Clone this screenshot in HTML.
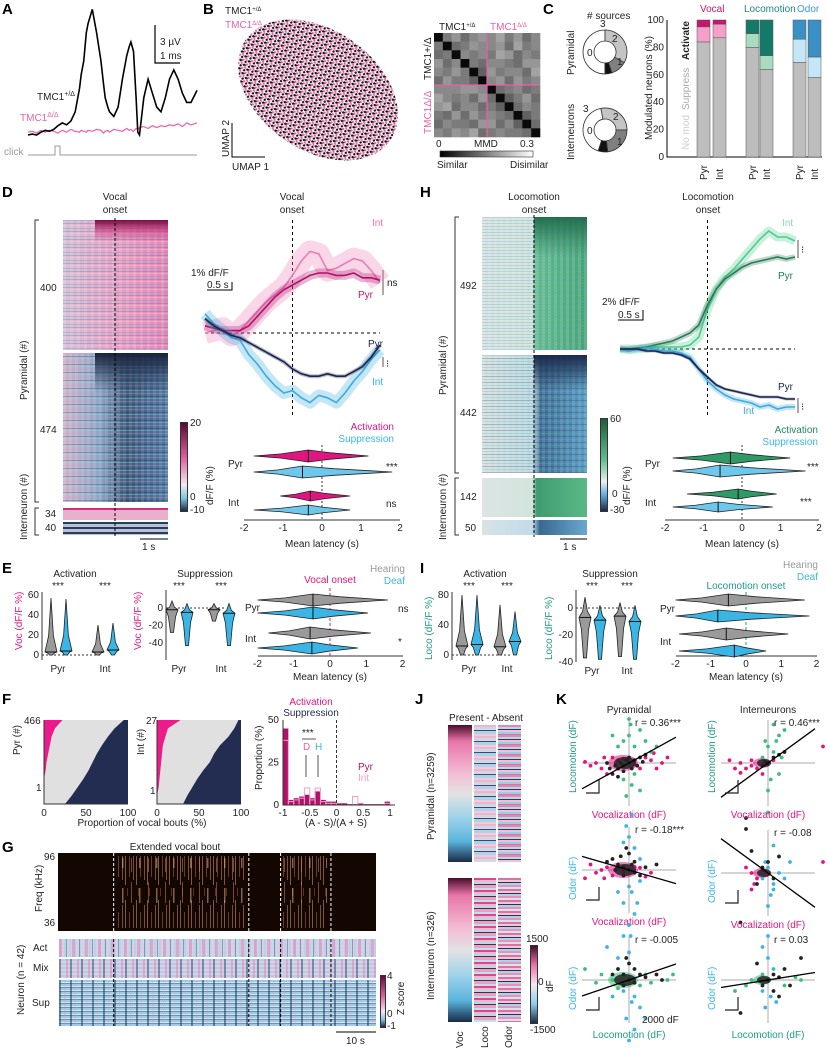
<!DOCTYPE html>
<html><head><meta charset="utf-8">
<style>
body{margin:0;background:#fff;}
#wrap{position:relative;width:827px;height:1050px;overflow:hidden;font-family:"Liberation Sans",sans-serif;}
.hm{position:absolute;}
svg text{font-family:"Liberation Sans",sans-serif;font-size:10px;fill:#222;}
.pl{font-size:15px;font-weight:bold;fill:#000;}
</style></head><body>
<div id="wrap">
<!-- D heatmap -->
<div class="hm" style="left:63px;top:220px;width:105px;height:130px;background:repeating-linear-gradient(180deg,rgba(90,170,215,.4) 0 1px,transparent 1px 3px,rgba(40,60,100,.2) 3px 4px,transparent 4px 5px,rgba(250,200,225,.4) 5px 6px,transparent 6px 8px),repeating-linear-gradient(90deg,rgba(255,255,255,.15) 0 3px,transparent 3px 7px),linear-gradient(90deg,#d4c0d6 0,#e6a2c4 45%,#e585b6 100%);"></div>
<div class="hm" style="left:95px;top:220px;width:73px;height:22px;background:linear-gradient(180deg,#7a0d48 0,rgba(200,40,110,.5) 50%,transparent 100%);"></div>
<div class="hm" style="left:63px;top:353px;width:105px;height:149px;background:repeating-linear-gradient(180deg,rgba(235,140,185,.35) 0 1px,transparent 1px 3px,rgba(20,30,60,.25) 3px 4px,transparent 4px 5px,rgba(160,210,235,.35) 5px 6px,transparent 6px 8px),repeating-linear-gradient(90deg,rgba(255,255,255,.12) 0 3px,transparent 3px 6px),linear-gradient(90deg,#cdb6cc 0,#86a8c6 35%,#3a5a7c 60%,#4a78a0 100%);"></div>
<div class="hm" style="left:95px;top:353px;width:73px;height:40px;background:linear-gradient(180deg,#18223c 0,rgba(30,45,75,.5) 50%,transparent 100%);"></div>
<div class="hm" style="left:63px;top:508px;width:105px;height:12px;background:linear-gradient(180deg,#d0307a 0 2px,#e8b0cc 2px);"></div>
<div class="hm" style="left:63px;top:522px;width:105px;height:13px;background:repeating-linear-gradient(180deg,#2a3c5c 0 2px,#a8c8dc 2px 4px,#e0b0c8 4px 5px);"></div>
<div class="hm" style="left:180px;top:422px;width:6px;height:88px;border:1px solid #333;background:linear-gradient(180deg,#5a0a30,#e060a0 40%,#f4e8f0 70%,#7fc8e8 85%,#1a2a48);"></div>
<!-- H heatmap -->
<div class="hm" style="left:482px;top:217px;width:105px;height:133px;background:repeating-linear-gradient(180deg,rgba(90,170,215,.3) 0 1px,transparent 1px 3px,rgba(80,180,130,.3) 3px 4px,transparent 4px 6px),repeating-linear-gradient(90deg,rgba(255,255,255,.15) 0 3px,transparent 3px 6px),linear-gradient(90deg,#dbe2e4 0,#d2e2de 48%,#62ba8e 52%,#46a276 100%);"></div>
<div class="hm" style="left:534px;top:217px;width:53px;height:40px;background:linear-gradient(180deg,#236e50 0,rgba(40,120,85,.4) 60%,transparent);"></div>
<div class="hm" style="left:482px;top:355px;width:105px;height:118px;background:repeating-linear-gradient(180deg,rgba(90,190,140,.3) 0 1px,transparent 1px 3px,rgba(30,50,90,.25) 3px 4px,transparent 4px 6px),repeating-linear-gradient(90deg,rgba(255,255,255,.12) 0 3px,transparent 3px 6px),linear-gradient(90deg,#d6e0e2 0,#bcd8e4 48%,#3e6e98 56%,#5a9ac4 100%);"></div>
<div class="hm" style="left:534px;top:355px;width:53px;height:35px;background:linear-gradient(180deg,#1a2a4c,transparent);"></div>
<div class="hm" style="left:482px;top:478px;width:105px;height:39px;background:linear-gradient(90deg,#dde4e4 0,#d2e4dc 48%,#3f9c70 52%,#5ab888 100%);"></div>
<div class="hm" style="left:482px;top:520px;width:105px;height:15px;background:linear-gradient(90deg,#d8e2e6 0,#c0dcea 48%,#3a6890 55%,#6aa8d0 100%);"></div>
<div class="hm" style="left:600px;top:418px;width:6px;height:92px;border:1px solid #333;background:linear-gradient(180deg,#1e5c3c,#60c090 45%,#eeeeee 68%,#60b0e0 82%,#1a2a48);"></div>
<!-- G neuron heatmap -->
<div class="hm" style="left:59px;top:939px;width:317px;height:18px;background:repeating-linear-gradient(90deg,rgba(235,120,175,.5) 0 3px,transparent 3px 7px,rgba(40,60,100,.4) 7px 8px,transparent 8px 13px),repeating-linear-gradient(90deg,rgba(160,210,235,.5) 0 2px,transparent 2px 5px),repeating-linear-gradient(180deg,#b6dcf0 0 2px,#f0c8dc 2px 4px);"></div>
<div class="hm" style="left:59px;top:959px;width:317px;height:19px;background:repeating-linear-gradient(90deg,rgba(30,50,90,.45) 0 2px,transparent 2px 7px,rgba(235,120,175,.45) 7px 9px,transparent 9px 11px),repeating-linear-gradient(180deg,#a6d4ec 0 2px,#ecc8dc 2px 4px);"></div>
<div class="hm" style="left:59px;top:980px;width:317px;height:46px;background:repeating-linear-gradient(90deg,rgba(30,45,80,.5) 0 2px,transparent 2px 5px,rgba(235,140,185,.35) 5px 6px,transparent 6px 11px),repeating-linear-gradient(180deg,#9ccce6 0 2px,#d8e6f0 2px 3px,#7090b0 3px 4px);"></div>
<div class="hm" style="left:380px;top:975px;width:4px;height:51px;border:1px solid #333;background:linear-gradient(180deg,#6a0a38,#e060a0 40%,#f4e8f0 70%,#7fc8e8 85%,#1a2a48);"></div>
<!-- J -->
<div class="hm" style="left:448px;top:725px;width:24px;height:137px;background:linear-gradient(180deg,#4a0c2a 0,#e876a8 12%,#f3bcd4 35%,#e2e2e2 50%,#9cd2ea 68%,#5ab4dc 85%,#1a2a48 100%);"></div>
<div class="hm" style="left:474px;top:725px;width:22px;height:137px;background:repeating-linear-gradient(180deg,#f2b4cc 0 2px,#c4dcea 2px 4px,#e9d0dc 4px 5px,#3a4a6a 5px 6px,#a8d4ec 6px 9px,#f6c8da 9px 11px);"></div>
<div class="hm" style="left:498px;top:725px;width:23px;height:137px;background:repeating-linear-gradient(180deg,#e488b0 0 2px,#b8d8ea 2px 4px,#2a3a5a 4px 5px,#f0c0d4 5px 7px,#9acde8 7px 9px,#e070a0 9px 10px);"></div>
<div class="hm" style="left:448px;top:878px;width:24px;height:144px;background:linear-gradient(180deg,#4a0c2a 0,#e876a8 12%,#f3bcd4 35%,#e2e2e2 50%,#9cd2ea 68%,#5ab4dc 85%,#1a2a48 100%);"></div>
<div class="hm" style="left:474px;top:878px;width:22px;height:144px;background:repeating-linear-gradient(180deg,#d8488a 0 2px,#f0b8d0 2px 4px,#b8d8ea 4px 6px,#4a2a4a 6px 7px,#eaa0c0 7px 10px,#c4e0ee 10px 12px);"></div>
<div class="hm" style="left:498px;top:878px;width:23px;height:144px;background:repeating-linear-gradient(180deg,#e070a0 0 2px,#f4c4d8 2px 4px,#2a3050 4px 5px,#a8d4ec 5px 7px,#ec90b8 7px 9px,#d4e4ee 9px 11px);"></div>
<div class="hm" style="left:530px;top:945px;width:6px;height:77px;border:1px solid #333;background:linear-gradient(180deg,#4a0c2a,#e876a8 25%,#f4e8f0 50%,#8ad0ee 75%,#1a2a48);"></div>

<svg id="s" width="827" height="1050" style="position:absolute;left:0;top:0">
<defs>
<pattern id="umap" width="6" height="6" patternUnits="userSpaceOnUse" patternTransform="rotate(20)">
<rect width="6" height="6" fill="#fff"/>
<circle cx="1" cy="1" r="1.2" fill="#111"/><circle cx="4" cy="1.5" r="1.2" fill="#ee5fa3"/>
<circle cx="2.5" cy="4" r="1.2" fill="#111"/><circle cx="5" cy="4.5" r="1.1" fill="#ee5fa3"/><circle cx="0.5" cy="5" r=".8" fill="#e060a0"/>
<circle cx="3.5" cy="3" r=".8" fill="#222"/>
</pattern>
<pattern id="spec" width="11" height="60" patternUnits="userSpaceOnUse">
<rect x="1" y="5" width="1" height="35" fill="#c08050" opacity=".6"/><rect x="4" y="0" width="1" height="45" fill="#e0b080" opacity=".5"/>
<rect x="8" y="12" width="1" height="25" fill="#a06040" opacity=".6"/><rect x="6" y="48" width="1" height="8" fill="#804020" opacity=".7"/>
</pattern>
<pattern id="spec2" width="17" height="40" patternUnits="userSpaceOnUse">
<rect x="3" y="8" width="1.5" height="20" fill="#f0c090" opacity=".5"/><rect x="12" y="2" width="1" height="30" fill="#d09060" opacity=".5"/>
</pattern>
</defs>
<text class="pl" x="2" y="14">A</text>
<text class="pl" x="203" y="14">B</text>
<text class="pl" x="543" y="14">C</text>
<text class="pl" x="2" y="197">D</text>
<text class="pl" x="420" y="197">H</text>
<text class="pl" x="2" y="573">E</text>
<text class="pl" x="420" y="573">I</text>
<text class="pl" x="2" y="704">F</text>
<text class="pl" x="2" y="852">G</text>
<text class="pl" x="415" y="704">J</text>
<text class="pl" x="556" y="704">K</text>

<!-- A labels -->
<path d="M155 25 V63 H180" stroke="#000" stroke-width="1.2" fill="none"/>
<text x="160" y="45">3 µV</text>
<text x="160" y="59">1 ms</text>
<text x="37" y="100">TMC1<tspan font-size="7" dy="-4">+/Δ</tspan></text>
<text x="20" y="121" fill="#ee5fa3" style="fill:#ee5fa3">TMC1<tspan font-size="7" dy="-4">Δ/Δ</tspan></text>
<text x="4" y="155" style="fill:#999">click</text>
<path d="M28 155 H55 V146 H60 V155 H197" stroke="#999" fill="none"/>

<!-- B -->
<text x="225" y="14" font-size="9">TMC1<tspan font-size="6" dy="-3">+/Δ</tspan></text>
<text x="225" y="28" font-size="9" style="fill:#ee5fa3">TMC1<tspan font-size="6" dy="-3">Δ/Δ</tspan></text>
<ellipse cx="318" cy="90" rx="88" ry="60" transform="rotate(35 318 90)" fill="url(#umap)"/>
<path d="M232 123 V157 H265" stroke="#000" fill="none"/>
<text x="0" y="0" transform="translate(229 157) rotate(-90)" font-size="9">UMAP 2</text>
<text x="232" y="170" font-size="9">UMAP 1</text>
<g id="mmd"></g>
<text x="439" y="30" font-size="9">TMC1<tspan font-size="6" dy="-3">+/Δ</tspan></text>
<text x="490" y="30" font-size="9" style="fill:#ee5fa3">TMC1<tspan font-size="6" dy="-3">Δ/Δ</tspan></text>
<text transform="translate(431 80) rotate(-90)" font-size="9">TMC1+/Δ</text>
<text transform="translate(431 134) rotate(-90)" font-size="9" style="fill:#ee5fa3">TMC1Δ/Δ</text>
<defs><linearGradient id="gmmd"><stop offset="0" stop-color="#000"/><stop offset="1" stop-color="#fff"/></linearGradient></defs>
<rect x="440" y="151" width="93" height="6" fill="url(#gmmd)" stroke="#333" stroke-width=".6"/>
<text x="436" y="147" font-size="9">0</text>
<text x="474" y="147" font-size="9">MMD</text>
<text x="520" y="147" font-size="9">0.3</text>
<text x="437" y="168" font-size="9">Similar</text>
<text x="510" y="168" font-size="9">Disimilar</text>

<!-- C -->
<text x="587" y="19" font-size="9"># sources</text>
<text transform="translate(574 75) rotate(-90)" font-size="10">Pyramidal</text>
<text transform="translate(574 160) rotate(-90)" font-size="10">Interneurons</text>
<g id="donuts"></g>
<g id="barsC"></g>
<text x="700" y="12" font-size="10" style="fill:#c4176e">Vocal</text>
<text x="744" y="12" font-size="10" style="fill:#1a8a7a">Locomotion</text>
<text x="797" y="12" font-size="10" style="fill:#3a9ad0">Odor</text>
<text transform="translate(652 140) rotate(-90)" font-size="9">Modulated neurons (%)</text>
<text transform="translate(689 60) rotate(-90)" font-size="9" font-weight="bold">Activate</text>
<text transform="translate(689 110) rotate(-90)" font-size="9" style="fill:#aaa">Suppress</text>
<text transform="translate(689 150) rotate(-90)" font-size="9" style="fill:#ccc">No mod</text>

<!-- D labels -->
<text x="115" y="200" text-anchor="middle">Vocal</text>
<text x="115" y="213" text-anchor="middle">onset</text>
<line x1="115" y1="218" x2="115" y2="537" stroke="#000" stroke-dasharray="3,2"/>
<path d="M39 220 H35 V502 H39 M39 508 H35 V535 H39" stroke="#333" fill="none"/>
<text transform="translate(27 400) rotate(-90)">Pyramidal (#)</text>
<text transform="translate(27 540) rotate(-90)">Interneuron (#)</text>
<text x="40" y="291">400</text>
<text x="40" y="433">474</text>
<text x="45" y="517" font-size="9">34</text>
<text x="45" y="531" font-size="9">40</text>
<line x1="140" y1="539" x2="168" y2="539" stroke="#000"/>
<text x="142" y="550">1 s</text>
<text x="190" y="426" font-size="9">20</text>
<text x="190" y="500" font-size="9">0</text>
<text x="190" y="513" font-size="9">-10</text>
<text transform="translate(213 505) rotate(-90)" font-size="9">dF/F (%)</text>
<text x="292" y="200" text-anchor="middle">Vocal</text>
<text x="292" y="213" text-anchor="middle">onset</text>
<text x="191" y="276" font-size="9">1% dF/F</text>
<path d="M207 290 H232 V282" stroke="#000" fill="none"/>
<text x="207" y="288" font-size="9">0.5 s</text>
<text x="372" y="226" font-size="9" style="fill:#ee70aa">Int</text>
<text x="358" y="298" font-size="9" style="fill:#c4176e">Pyr</text>
<text x="368" y="347" font-size="9" style="fill:#1a2550">Pyr</text>
<text x="372" y="385" font-size="9" style="fill:#3aacde">Int</text>
<path d="M383 270 V295 M383 357 V367" stroke="#555"/>
<text x="387" y="286" font-size="9">ns</text>
<text x="386" y="367" font-size="10">⁝</text>
<text x="394" y="430" text-anchor="end" style="fill:#e0157f">Activation</text>
<text x="394" y="442" text-anchor="end" style="fill:#3ab6e6">Suppression</text>
<text x="228" y="467">Pyr</text>
<text x="228" y="506">Int</text>
<text x="386" y="470" font-size="9">***</text>
<text x="386" y="507" font-size="9">ns</text>
<text x="322" y="547" text-anchor="middle">Mean latency (s)</text>

<!-- H labels -->
<text x="534" y="200" text-anchor="middle">Locomotion</text>
<text x="534" y="213" text-anchor="middle">onset</text>
<line x1="534" y1="215" x2="534" y2="537" stroke="#000" stroke-dasharray="3,2"/>
<path d="M459 217 H455 V473 H459 M459 478 H455 V535 H459" stroke="#333" fill="none"/>
<text transform="translate(446 395) rotate(-90)">Pyramidal (#)</text>
<text transform="translate(446 540) rotate(-90)">Interneuron (#)</text>
<text x="460" y="289">492</text>
<text x="460" y="416">442</text>
<text x="460" y="500">142</text>
<text x="465" y="531">50</text>
<line x1="560" y1="539" x2="587" y2="539" stroke="#000"/>
<text x="563" y="550">1 s</text>
<text x="610" y="422" font-size="9">60</text>
<text x="612" y="497" font-size="9">0</text>
<text x="610" y="513" font-size="9">-30</text>
<text transform="translate(630 505) rotate(-90)" font-size="9">dF/F (%)</text>
<text x="708" y="200" text-anchor="middle">Locomotion</text>
<text x="708" y="213" text-anchor="middle">onset</text>
<text x="602" y="305" font-size="9">2% dF/F</text>
<path d="M618 320 H643 V310" stroke="#000" fill="none"/>
<text x="618" y="318" font-size="9">0.5 s</text>
<text x="782" y="226" font-size="9" style="fill:#8fd8a8">Int</text>
<text x="778" y="279" font-size="9" style="fill:#1f7a5e">Pyr</text>
<text x="778" y="390" font-size="9" style="fill:#1a2550">Pyr</text>
<text x="743" y="414" font-size="9" style="fill:#3aacde">Int</text>
<path d="M798 240 V258 M798 398 V413" stroke="#555"/>
<text x="801" y="253" font-size="10">⁝</text>
<text x="801" y="410" font-size="10">⁝</text>
<text x="818" y="433" text-anchor="end" style="fill:#1f8a5e">Activation</text>
<text x="818" y="445" text-anchor="end" style="fill:#3ab6e6">Suppression</text>
<text x="645" y="467" font-size="11">Pyr</text>
<text x="645" y="506" font-size="11">Int</text>
<text x="807" y="470" font-size="9">***</text>
<text x="800" y="505" font-size="9">***</text>
<text x="742" y="547" text-anchor="middle">Mean latency (s)</text>

<!-- E / I titles -->
<text x="75" y="577" text-anchor="middle">Activation</text>
<text x="205" y="577" text-anchor="middle">Suppression</text>
<text transform="translate(22 650) rotate(-90)" style="fill:#e0157f">Voc (dF/F %)</text>
<text transform="translate(141 650) rotate(-90)" style="fill:#e0157f">Voc (dF/F %)</text>
<text x="330" y="583" text-anchor="middle" style="fill:#e0157f">Vocal onset</text>
<text x="405" y="572" text-anchor="end" style="fill:#999">Hearing</text>
<text x="405" y="584" text-anchor="end" style="fill:#3ab6e6">Deaf</text>
<text x="245" y="611">Pyr</text>
<text x="245" y="642">Int</text>
<text x="398" y="612" font-size="9">ns</text>
<text x="398" y="645" font-size="9">*</text>
<text x="330" y="680" text-anchor="middle">Mean latency (s)</text>
<text x="485" y="577" text-anchor="middle">Activation</text>
<text x="610" y="577" text-anchor="middle">Suppression</text>
<text transform="translate(432 660) rotate(-90)" style="fill:#1f9a86">Loco (dF/F %)</text>
<text transform="translate(552 660) rotate(-90)" style="fill:#1f9a86">Loco (dF/F %)</text>
<text x="746" y="589" text-anchor="middle" style="fill:#1f9a86">Locomotion onset</text>
<text x="818" y="568" text-anchor="end" style="fill:#999">Hearing</text>
<text x="818" y="580" text-anchor="end" style="fill:#3ab6e6">Deaf</text>
<text x="660" y="612">Pyr</text>
<text x="660" y="645">Int</text>
<text x="746" y="680" text-anchor="middle">Mean latency (s)</text>

<!-- F labels -->
<text x="311" y="705" text-anchor="middle" style="fill:#e0157f" font-size="9">Activation</text>
<text x="311" y="716" text-anchor="middle" style="fill:#1f2a50" font-size="9">Suppression</text>
<text transform="translate(20 755) rotate(-90)" font-size="9">Pyr (#)</text>
<text transform="translate(144 755) rotate(-90)" font-size="9">Int (#)</text>
<text x="24" y="724" font-size="9">466</text>
<text x="36" y="791" font-size="9">1</text>
<text x="146" y="724" font-size="9">27</text>
<text x="150" y="794" font-size="9">1</text>
<text x="142" y="826" text-anchor="middle" font-size="9">Proportion of vocal bouts (%)</text>
<text transform="translate(262 790) rotate(-90)" font-size="9">Proportion (%)</text>
<text x="336" y="826" text-anchor="middle" font-size="9">(A - S)/(A + S)</text>
<text x="303" y="750" font-size="9" style="fill:#ee5fa3">D</text>
<text x="315" y="750" font-size="9" style="fill:#3ab6e6">H</text>
<text x="302" y="736" font-size="9">***</text>
<text x="358" y="770" font-size="9" style="fill:#b0126a">Pyr</text>
<text x="358" y="781" font-size="9" style="fill:#f2a0c6">Int</text>

<!-- G labels -->
<text x="175" y="850" text-anchor="middle" font-size="9">Extended vocal bout</text>
<rect x="58" y="853" width="318" height="78" fill="#140600"/>
<rect x="118" y="856" width="128" height="72" fill="url(#spec)"/>
<rect x="118" y="858" width="128" height="45" fill="url(#spec2)"/>
<rect x="281" y="856" width="46" height="72" fill="url(#spec)"/>
<rect x="281" y="858" width="46" height="45" fill="url(#spec2)"/>
<text x="44" y="860" font-size="9">96</text>
<text x="44" y="926" font-size="9">36</text>
<text transform="translate(42 912) rotate(-90)" font-size="9">Freq (kHz)</text>
<text x="33" y="951" font-size="9">Act</text>
<text x="33" y="971" font-size="9">Mix</text>
<text x="32" y="1006" font-size="9">Sup</text>
<text transform="translate(24 1015) rotate(-90)" font-size="9">Neuron (n = 42)</text>
<line x1="336" y1="1032" x2="376" y2="1032" stroke="#000"/>
<text x="346" y="1044" font-size="9">10 s</text>
<text x="387" y="979" font-size="8">4</text>
<text x="387" y="1017" font-size="8">0</text>
<text x="387" y="1029" font-size="8">-1</text>
<text transform="translate(404 1015) rotate(-90)" font-size="9">Z score</text>

<!-- J labels -->
<text x="486" y="721" text-anchor="middle" font-size="9">Present - Absent</text>
<text transform="translate(434 840) rotate(-90)" font-size="9">Pyramidal (n=3259)</text>
<text transform="translate(434 1000) rotate(-90)" font-size="9">Interneuron (n=326)</text>
<text transform="translate(463 1048) rotate(-90)" font-size="9">Voc</text>
<text transform="translate(488 1048) rotate(-90)" font-size="9">Loco</text>
<text transform="translate(512 1048) rotate(-90)" font-size="9">Odor</text>
<text x="526" y="942" font-size="9">1500</text>
<text x="538" y="985" font-size="9">0</text>
<text x="530" y="1033" font-size="9">-1500</text>
<text transform="translate(553 992) rotate(-90)" font-size="9">dF</text>

<!-- K labels -->
<text x="629" y="713" text-anchor="middle" font-size="9">Pyramidal</text>
<text x="768" y="713" text-anchor="middle" font-size="9">Interneurons</text>
<g id="kpan"></g>
<text x="642" y="1023" font-size="9">2000 dF</text>
</svg>
</div>
<script>
// ===== data =====
// A
const aTime=[0,5,10,15,20,25,30,35,40,45,50,55,60,62,65,68,70,75,80,85,88,90,93,95,100,105,110,115,118,120,123,126,128,130,135,140,145,150,155,160,165,170,175,180,185,190,197];
const aHet=[0,0.1,0,0.3,0.5,0.4,0.6,1,1.3,1.1,1.5,2.5,5,6.5,8,11,12,13.5,11,8,5.5,4,3,2.5,2,3,6,8.5,9.5,10,9,4,0.3,0,4,6,4.5,3,2.5,4,6,7,6,4.5,3.5,3.5,4.8];
const aHom=[0.3,0.4,0.2,0.5,0.3,0.5,0.4,0.2,0.5,0.3,0.6,0.4,0.3,0.5,0.4,0.3,0.5,0.4,0.6,0.5,0.2,0.4,0.5,0.3,0.6,0.5,0.4,0.7,0.5,0.6,0.4,0.7,0.6,0.8,0.9,0.7,1,0.8,1,0.9,1.1,1,1.2,0.9,1.3,1.1,1.3];
// B MMD matrix (digits 0-9 -> 0..0.3)
const mmdRows=["046356574635","403465563745","340545476354","635043554366","546402645537","364420563645","555665034534","754536302463","673553420354","436364543024","354436635203","546573454430"];
// C donuts (fractions for 0,1,2,3 sources)
const donutPyr=[0.5,0.33,0.12,0.05];
const donutInt=[0.42,0.28,0.23,0.07];
// C bars
const barGroups=["Vocal","Vocal","Locomotion","Locomotion","Odor","Odor"];
const barCats=["Pyr","Int","Pyr","Int","Pyr","Int"];
const barNoMod=[84,87,80,64,69,58];
const barSupp=[11,10,10,10,17,15];
const barAct=[5,3,10,26,14,27];
// D traces (t = -1.5..1.5 step 0.15), % dF/F
const dTime=[-1.5,-1.35,-1.2,-1.05,-0.9,-0.75,-0.6,-0.45,-0.3,-0.15,0,0.15,0.3,0.45,0.6,0.75,0.9,1.05,1.2,1.35,1.5];
const dPyrAct=[0.3,0.2,0.1,0.1,0.1,0.3,0.7,1.1,1.5,1.8,2.0,2.2,2.4,2.5,2.5,2.4,2.4,2.5,2.3,2.3,2.2];
const dIntAct=[0,0.1,0.2,-0.1,0.1,0.5,0.9,1.3,1.6,1.9,2.4,3.0,3.4,3.3,2.6,2.7,2.9,3.1,3.0,2.6,2.1];
const dPyrSup=[0.6,0.3,0.1,-0.1,-0.2,-0.4,-0.6,-0.8,-1.0,-1.2,-1.5,-1.7,-1.8,-1.8,-1.7,-1.8,-1.8,-1.6,-1.4,-1.0,-0.5];
const dIntSup=[0.8,0.4,0.1,-0.2,-0.3,-0.9,-1.3,-1.8,-2.2,-2.5,-2.4,-2.7,-2.9,-2.6,-2.7,-2.9,-2.5,-2.0,-1.6,-1.1,-0.7];
// H traces
const hPyrAct=[0,0,0.05,0.1,0.2,0.3,0.4,0.6,0.8,1.2,2.2,3.0,3.5,3.8,4.1,4.3,4.4,4.5,4.6,4.5,4.6];
const hIntAct=[0,0,0,0.05,0.1,0.1,0.1,0.1,0.2,0.6,2.0,3.0,3.6,4.0,4.5,5.0,5.5,5.9,5.6,5.6,5.4];
const hPyrSup=[0,0,0,-0.1,-0.1,-0.2,-0.2,-0.3,-0.5,-1.0,-1.4,-1.8,-2.0,-2.1,-2.2,-2.3,-2.4,-2.4,-2.4,-2.5,-2.5];
const hIntSup=[0,-0.1,0,0.05,0,-0.1,-0.1,-0.2,-0.4,-1.0,-1.6,-2.0,-2.3,-2.5,-2.6,-2.7,-2.9,-2.8,-3.0,-2.9,-2.9];
// latency violins: [lo, hi, median] in s
const dVioAct=[[-1.75,1.19,-0.35],[-1.07,0.72,-0.3]];
const dVioSup=[[-1.75,1.8,-0.5],[-1.75,0.72,-0.35]];
const hVioAct=[[-1.8,1.25,-0.3],[-1.43,0.9,-0.1]];
const hVioSup=[[-1.8,1.65,-0.57],[-1.8,0.8,-0.62]];
const eLatHear=[[-2,1.6,-0.47],[-1.7,1.13,-0.55]];
const eLatDeaf=[[-2,1.05,-0.47],[-2,0.77,-0.5]];
const iLatHear=[[-2,1.67,-0.5],[-1.9,1.2,-0.56]];
const iLatDeaf=[[-2,1.8,-0.8],[-1.9,0.57,-0.33]];
// E/I amplitude violins [lo, hi, median] %
const eActHear=[[0,57,3],[0,30,3]];
const eActDeaf=[[0,56,4],[0,32,5]];
const eSupHear=[[-28,8,-2],[-15,5,-2]];
const eSupDeaf=[[-43,5,-5],[-43,5,-6]];
const iActHear=[[0,80,12],[0,67,11]];
const iActDeaf=[[0,80,14],[0,58,18]];
const iSupHear=[[-37,8,-7],[-36,4,-6]];
const iSupDeaf=[[-38,2,-9],[-38,2,-10]];
// F rank plots (rows bottom->top, fraction of bouts)
const fPyrAct=[0,0,0,0,0.02,0.03,0.05,0.07,0.09,0.13,0.22];
const fPyrSup=[0.25,0.33,0.40,0.47,0.53,0.58,0.63,0.69,0.76,0.84,0.95];
const fIntAct=[0,0,0.02,0.03,0.04,0.05,0.06,0.07,0.1,0.13,0.28];
const fIntSup=[0.31,0.36,0.42,0.48,0.55,0.63,0.68,0.75,0.85,0.92,0.97];
// F histogram (bins of 0.1 from -1)
const histPyr=[45,3,4,5,6,4,8,3,2,2,1,1,0.5,0.5,1,0.5,0.5,0.5,0.5,2];
const histInt=[38,2,3,4,10,3,10,2,1,1,0,0,0,5,1,0,0,0,0,1];
// G dashed events (s)
const gEvents=[10.5,36,42,51.5];
// K scatter (thousands dF)
const kSlopes=[0.55,0.73,-0.29,-0.73,0.34,0.16];
const kR=["r = 0.36***","r = 0.46***","r = -0.18***","r = -0.08","r = -0.005","r = 0.03"];
const kBlack=[
[[-2,-1],[-1,-.5],[0,0],[-3,-2],[1,.5],[-1.5,0],[.5,-1],[-2.5,-.5],[2,1],[-1,-1.5],[0,1],[-3.5,-1],[1.5,-.5],[-.5,.5],[3,1.5],[-2,-2.5],[2.5,.2],[-4,0]],
[[0,0],[1,1],[-1,-.5],[2,1.5],[-.5,.2],[3,2],[-4,-10]],
[[-2,1],[-1,.5],[0,0],[-3,2],[1,-.5],[-1.5,2.5],[.5,1],[2,-1],[-2.5,0],[3,.5],[-1,-1],[0,3],[-4,1.5],[1,1.5],[5,1],[-.5,4]],
[[-1,1],[-3,4],[0,2],[-2,-2],[1,-1],[-4,8],[2,3],[-5,-9]],
[[0,0],[-1,1],[1,-.5],[-2,2],[2,1],[0,3],[-1,-1],[3,.5],[-3,1],[1,2],[5,1],[-.5,4],[6,0]],
[[0,0],[1,1],[2,.5],[3,2],[-1,-1],[1,-2],[4,-1],[-2,3],[2,-3],[-5,-6],[6,4]]];
const kColorA=[
[[-5,-1],[-6,0],[-4,-2],[-3,1],[-2,.5],[2,-1],[4,.5],[6,0],[7,1],[-7,-.5],[3,1],[5,-1],[-1,.8],[1,-.3],[-8,.2],[4.5,1.8],[-4.5,1]],
[[-6,-1],[-5,0],[-4,-1],[-3,.5],[-2,-1],[-7,.5],[-1,-2],[10,3],[1,.5],[-3,-.5],[-5,-1.8]],
[[-5,0],[-6,-.5],[-4,.5],[-3,-1],[-2,.2],[2,.4],[4,-.5],[-7,1],[-1,-.3],[1,.6],[3,-1.2],[-8,-1.5],[-4.5,-1.5]],
[[-3,0],[-2,-1],[-4,1],[-1,.5],[-2.5,-2],[10,2],[-3,-3]],
[[-5,1],[-6,-.5],[-3,0],[2,-1],[4,-.5],[7,0],[-8,2],[3,1],[-2,-1.5],[8,1]],
[[-6,-2],[-3,0],[5,.5],[6,0],[-1,1],[3,-1],[-4,-1]]];
const kColorB=[
[[0,5],[1,3],[-1,4],[2,6],[.5,-4],[-.5,-6],[0,8],[3,4],[1,-2],[2,-5],[-2,3],[4,2],[-1,-3],[.3,7],[5,3],[-3,5]],
[[0,3],[1,2],[2,5],[-1,1],[.5,-3],[1.5,4],[3,6],[0,-5],[2,-2],[-.5,4],[1,7],[0,-9],[2.5,1]],
[[0,6],[.5,-4],[-1,-6],[0,-10],[1,4],[2,-2],[-.5,8],[1,-8],[.3,-12],[-1,5],[2,2],[0,-3],[-2,-4],[1.5,-6],[.5,10]],
[[0,1],[1,-2],[2,3],[-1,-1],[.5,-4],[1,5],[3,-1],[0,-6],[2,0],[-.5,2],[4,2],[1,-3]],
[[0,5],[-1,8],[.5,-4],[-.5,-7],[1,-3],[-2,4],[0,10],[1,-9],[-1,-2],[2,-5],[-3,-3],[0,-11],[-4,6],[3,-7]],
[[0,4],[-1,6],[.5,-3],[-.5,-5],[1,2],[0,8],[-1,-2],[1.5,-4]]];
</script>
<script>
const S=document.getElementById('s');const NS='http://www.w3.org/2000/svg';
function mk(tag,a,par){const e=document.createElementNS(NS,tag);for(const k in a)e.setAttribute(k,a[k]);(par||S).appendChild(e);return e;}
function pathD(xs,ys,fx,fy){return xs.map((x,i)=>(i?'L':'M')+fx(x).toFixed(1)+' '+fy(ys[i]).toFixed(1)).join(' ');}

// A traces
const axA=t=>28+t*(169/197), ayA=v=>135-v*9.3;
let e=mk('path',{d:pathD(aTime,aHom,axA,ayA),stroke:'#ee5fa3',fill:'none','stroke-width':1.2});


e=mk('path',{d:pathD(aTime,aHet,axA,ayA),stroke:'#000',fill:'none','stroke-width':1.6});



// B MMD
const G=document.getElementById('mmd');const cell=106/12;
mmdRows.forEach((row,i)=>{[...row].forEach((c,j)=>{const v=+c/9;const g=Math.round(v===0?10:70+v*120);
const r=mk('rect',{x:434+j*cell,y:33+i*(104/12),width:cell+.3,height:104/12+.3,fill:`rgb(${g},${g},${g})`},G);

});});
e=mk('path',{d:'M487 33 V137 M434 85 H540',stroke:'#ee5fa3','stroke-width':1.2});



// C donuts
const donutCols=['#ffffff','#c4c4c4','#808080','#111111'];
function donut(fr,cx,cy,start,name){let a=start;const R=22,r=11;
fr.forEach((f,i)=>{const a2=a+f*2*Math.PI;const p=(ang,rad)=>[cx+rad*Math.sin(ang),cy-rad*Math.cos(ang)];
const lg=f>0.5?1:0;const[p1,p2,p3,p4]=[p(a,R),p(a2,R),p(a2,r),p(a,r)];
const s=mk('path',{d:`M${p1} A${R} ${R} 0 ${lg} 1 ${p2} L${p3} A${r} ${r} 0 ${lg} 0 ${p4}Z`,fill:donutCols[i],stroke:'#333','stroke-width':.8},document.getElementById('donuts'));


a=a2;});}
donut(donutPyr,605,52,Math.PI,'c-donut-pyr');
donut(donutInt,605,130,Math.PI*1.1,'c-donut-int');
[['0',587,56],['1',617,65],['2',612,42],['3',600,27],['0',587,134],['1',617,145],['2',613,120],['3',583,112]].forEach(t=>{const x=mk('text',{x:t[1],y:t[2],'font-size':9},document.getElementById('donuts'));x.textContent=t[0];

});

// C bars
const BC=document.getElementById('barsC');const yC=v=>157-v*1.37;const barX=[697,713,746,760,793,808];
const darkCol={Vocal:'#c4176e',Locomotion:'#137a6a',Odor:'#3a90c4'},lightCol={Vocal:'#f4a0c8',Locomotion:'#a8dcc0',Odor:'#c4e6f6'};
e=mk('path',{d:'M667 20 V157 H822',stroke:'#000',fill:'none'},BC);


[0,20,40,60,80,100].forEach(v=>{const t=mk('text',{x:664,y:yC(v)+3,'font-size':8,'text-anchor':'end'},BC);t.textContent=v;

});
barCats.forEach((c,i)=>{const g=barGroups[i];let b=0;
[[barNoMod[i],'#bdbdbd'],[barSupp[i],lightCol[g]],[barAct[i],darkCol[g]]].forEach((s,k)=>{
const r=mk('rect',{x:barX[i],y:yC(b+s[0]),width:13,height:s[0]*1.37,fill:s[1],stroke:'#555','stroke-width':.5},BC);

b+=s[0];});
const t=mk('text',{transform:`translate(${barX[i]+10} 180) rotate(-90)`,'font-size':9},BC);t.textContent=c;

});

// line plots
function lines(xf,yf,series,names,cols,bandw){series.forEach((s,i)=>{
const b=mk('path',{d:pathD(dTime,s,xf,yf),stroke:cols[i],'stroke-opacity':.3,'stroke-width':bandw[i],fill:'none','stroke-linejoin':'round'});


const l=mk('path',{d:pathD(dTime,s,xf,yf),stroke:cols[i],'stroke-width':1.6,fill:'none'});

});}
const xD=t=>205+(t+1.5)/3*175,yD=v=>333-v*24;
e=mk('path',{d:`M205 ${yD(0)} H380 M${xD(0)} 220 V417`,stroke:'#000','stroke-dasharray':'3,3'});


lines(xD,yD,[dIntAct,dPyrAct,dIntSup,dPyrSup],['d-trace-int-act','d-trace-pyr-act','d-trace-int-sup','d-trace-pyr-sup'],['#f07ab4','#b0126a','#3aacde','#1a2550'],[22,9,12,4]);
const xH=t=>620+(t+1.5)/3*175,yH=v=>349-v*20;
e=mk('path',{d:`M620 ${yH(0)} H795 M${xH(0)} 220 V415`,stroke:'#000','stroke-dasharray':'3,3'});


lines(xH,yH,[hIntAct,hPyrAct,hIntSup,hPyrSup],['h-trace-int-act','h-trace-pyr-act','h-trace-int-sup','h-trace-pyr-sup'],['#4ccc8c','#2a7a58','#3aacde','#1a2550'],[9,6,6,3]);

// violins
function vioH(d,fx,y,h,col,name){const[lo,hi,med]=d;const xs=[lo,lo+(med-lo)*.5,med,med+(hi-med)*.35,hi],hs=[0,.35,1,.55,0];
let p='M'+xs.map((x,i)=>fx(x)+' '+(y-hs[i]*h)).join(' L')+' L'+xs.slice().reverse().map((x,i)=>fx(x)+' '+(y+hs[4-i]*h)).join(' L')+'Z';
const v=mk('path',{d:p,fill:col,stroke:'#222','stroke-width':.8});


const m=mk('line',{x1:fx(med),x2:fx(med),y1:y-h,y2:y+h,stroke:'#111','stroke-width':1});

}
function vioV(d,x,fy,w,col,name){const[lo,hi,med]=d;const vs=[lo,med-(med-lo)*.3,med,med+(hi-med)*.3,hi],ws=[.25,.6,1,.4,0];
let p='M'+vs.map((v,i)=>(x-ws[i]*w)+' '+fy(v)).join(' L')+' L'+vs.slice().reverse().map((v,i)=>(x+ws[4-i]*w)+' '+fy(v)).join(' L')+'Z';
const el=mk('path',{d:p,fill:col,stroke:'#222','stroke-width':.8});


const m=mk('line',{x1:x-w,x2:x+w,y1:fy(med),y2:fy(med),stroke:'#111','stroke-width':1});

}
function latAxis(x0,x1,y,zero,prefix){const sc=(x1-x0)/4;const fx=t=>zero+t*sc;
const a=mk('line',{x1:x0,x2:x1,y1:y,y2:y,stroke:'#333'});


[-2,-1,0,1,2].forEach(t=>{const tx=mk('text',{x:fx(t),y:y+11,'text-anchor':'middle','font-size':9});tx.textContent=t;

});return fx;}
let fx=latAxis(244,400,520,322,'d-vio');
e=mk('line',{x1:322,x2:322,y1:445,y2:520,stroke:'#333','stroke-dasharray':'2,2'});


vioH(dVioAct[0],fx,456,6,'#e0157f','d-vio-pyr-act');vioH(dVioSup[0],fx,472,6,'#6ec8ec','d-vio-pyr-sup');
vioH(dVioAct[1],fx,496,5,'#e0157f','d-vio-int-act');vioH(dVioSup[1],fx,510,5,'#6ec8ec','d-vio-int-sup');
fx=latAxis(665,819,520,742,'h-vio');
e=mk('line',{x1:742,x2:742,y1:445,y2:520,stroke:'#333','stroke-dasharray':'2,2'});


vioH(hVioAct[0],fx,458,6,'#2e9a66','h-vio-pyr-act');vioH(hVioSup[0],fx,471,6,'#6ec8ec','h-vio-pyr-sup');
vioH(hVioAct[1],fx,494,5,'#2e9a66','h-vio-int-act');vioH(hVioSup[1],fx,507,5,'#6ec8ec','h-vio-int-sup');
fx=latAxis(258,403,656,330,'e-lat');
e=mk('line',{x1:330,x2:330,y1:588,y2:656,stroke:'#e0157f','stroke-dasharray':'3,2'});


vioH(eLatHear[0],fx,600,6,'#9a9a9a','e-lat-pyr-hear');vioH(eLatDeaf[0],fx,613,6,'#3ab6e6','e-lat-pyr-deaf');
vioH(eLatHear[1],fx,633,6,'#9a9a9a','e-lat-int-hear');vioH(eLatDeaf[1],fx,648,6,'#3ab6e6','e-lat-int-deaf');
fx=latAxis(676,817,656,746,'i-lat');
e=mk('line',{x1:746,x2:746,y1:592,y2:656,stroke:'#1f9a86','stroke-dasharray':'3,2'});


vioH(iLatHear[0],fx,600,6,'#9a9a9a','i-lat-pyr-hear');vioH(iLatDeaf[0],fx,616,6,'#3ab6e6','i-lat-pyr-deaf');
vioH(iLatHear[1],fx,634,6,'#9a9a9a','i-lat-int-hear');vioH(iLatDeaf[1],fx,651,6,'#3ab6e6','i-lat-int-deaf');

function vAxis(x,fy,ticks,y0,y1,prefix,xs,hear,deaf){
const a=mk('path',{d:`M${x} ${y0} V${y1}`,stroke:'#333',fill:'none'});


ticks.forEach(t=>{const tx=mk('text',{x:x-3,y:fy(t)+3,'text-anchor':'end','font-size':9});tx.textContent=t;

});
const z=mk('line',{x1:x,x2:x+60,y1:fy(0),y2:fy(0),stroke:'#333','stroke-dasharray':'2,2'});


['Pyr','Int'].forEach((c,i)=>{vioV(hear[i],xs[i],fy,6,'#9a9a9a',prefix+'-'+c.toLowerCase()+'-hear');vioV(deaf[i],xs[i]+15,fy,6,'#3ab6e6',prefix+'-'+c.toLowerCase()+'-deaf');
const t=mk('text',{x:xs[i]+7,y:y1+12,'text-anchor':'middle','font-size':9});t.textContent=c;


const s=mk('text',{x:xs[i]+7,y:589,'text-anchor':'middle','font-size':9});s.textContent='***';

});}
vAxis(42,v=>655-v,[0,20,40,60],592,660,'e-act',[51,98],eActHear,eActDeaf);
vAxis(166,v=>608-v*0.875,[0,-20,-40],590,660,'e-sup',[172,214],eSupHear,eSupDeaf);
vAxis(452,v=>655-v*0.75,[0,40,80],592,660,'i-act',[462,500],iActHear,iActDeaf);
vAxis(576,v=>608-v*1.35,[0,-20,-40],590,662,'i-sup',[585,620],iSupHear,iSupDeaf);

// F rank plots
function rank(x0,act,sup,prefix){const W=84,y0=720,H=84;const fy=r=>y0+H-r*H;const fxx=f=>x0+f*W;
const bg=mk('rect',{x:x0,y:y0,width:W,height:H,fill:'#e0e0e0'});


const n=act.length-1;
let pa=`M${x0} ${fy(0)}`;act.forEach((a,i)=>{pa+=` L${fxx(a)} ${fy(i/n)}`;});pa+=` L${x0} ${y0}Z`;
const A=mk('path',{d:pa,fill:'#ec1a8a'});

let ps=`M${x0+W} ${fy(0)}`;sup.forEach((s,i)=>{ps+=` L${fxx(s)} ${fy(i/n)}`;});ps+=` L${x0+W} ${y0}Z`;
const Sp=mk('path',{d:ps,fill:'#232d52'});

const ax=mk('path',{d:`M${x0} ${y0} V${y0+H} H${x0+W}`,stroke:'#333',fill:'none'});

[0,50,100].forEach(v=>{const t=mk('text',{x:fxx(v/100),y:816,'text-anchor':'middle','font-size':9});t.textContent=v;

});}
rank(44,fPyrAct,fPyrSup,'f-pyr');rank(157,fIntAct,fIntSup,'f-int');
// F histogram
const hx=v=>283+(v+1)*53.5,hy=v=>805-v*1.7;
histPyr.forEach((v,i)=>{const r=mk('rect',{x:hx(-1+i*0.1),y:hy(v),width:5.35,height:v*1.7,fill:'#b0126a'});

});
histInt.forEach((v,i)=>{const r=mk('rect',{x:hx(-1+i*0.1),y:hy(v),width:5.35,height:v*1.7,fill:'none',stroke:'#f2a0c6','stroke-width':1});

});
e=mk('path',{d:`M283 720 V805 H395`,stroke:'#333',fill:'none'});


e=mk('line',{x1:hx(0),x2:hx(0),y1:720,y2:805,stroke:'#333','stroke-dasharray':'3,2'});


[0,25,50].forEach(v=>{const t=mk('text',{x:279,y:hy(v)+3,'text-anchor':'end','font-size':9});t.textContent=v;

});
[-1,-0.5,0,0.5,1].forEach(v=>{const t=mk('text',{x:hx(v),y:816,'text-anchor':'middle','font-size':9});t.textContent=v;

});
e=mk('path',{d:'M302 739 H316 M306 755 V777 M318 755 V777',stroke:'#555',fill:'none'});



// G events
const gx=t=>58+t*(318/60);
gEvents.forEach(t=>{const l=mk('line',{x1:gx(t),x2:gx(t),y1:853,y2:931,stroke:'#fff','stroke-dasharray':'3,2'});


const l2=mk('line',{x1:gx(t),x2:gx(t),y1:939,y2:1026,stroke:'#000','stroke-dasharray':'3,2'});

});

// K scatter
const KP=document.getElementById('kpan');
const kCenters=[[629,763],[768,763],[629,870],[768,873],[629,980],[768,980]];
const kColA=['#e0157f','#e0157f','#e0157f','#e0157f','#3cbf7c','#3cbf7c'];
const kColB=['#3cbf7c','#3cbf7c','#3ab6e6','#3ab6e6','#3ab6e6','#3ab6e6'];
const kY=['Locomotion (dF)','Locomotion (dF)','Odor (dF)','Odor (dF)','Odor (dF)','Odor (dF)'];
const kX=['Vocalization (dF)','Vocalization (dF)','Vocalization (dF)','Vocalization (dF)','Locomotion (dF)','Locomotion (dF)'];
const kYc=['#1f9a86','#1f9a86','#3ab6e6','#3ab6e6','#3ab6e6','#3ab6e6'];
const kXc=['#e0157f','#e0157f','#e0157f','#e0157f','#1f9a86','#1f9a86'];
const ks=5.5;
kCenters.forEach((c,i)=>{const[cx,cy]=c;const fxk=v=>cx+v*ks,fyk=v=>cy-v*ks;
const ax=mk('path',{d:`M${cx-47} ${cy} H${cx+47} M${cx} ${cy-43} V${cy+43}`,stroke:'#bbb','stroke-width':1.2},KP);


const core2=mk('ellipse',{cx:cx-6,cy:cy,rx:i%2?9:15,ry:i%2?5:8,fill:kColA[i],opacity:.55},KP);


[[kColorA[i],kColA[i]],[kColorB[i],kColB[i]],[kBlack[i],'#222']].forEach(([pts,col])=>{pts.forEach(p=>{
const d=mk('circle',{cx:fxk(p[0]),cy:fyk(p[1]),r:1.9,fill:col},KP);

});});
const hub=mk('ellipse',{cx:cx-4,cy:cy,rx:i%2?7:11,ry:i%2?4:6,fill:'#222',opacity:.85},KP);


const sl=kSlopes[i];const L=mk('line',{x1:cx-47,y1:cy+sl*47,x2:cx+47,y2:cy-sl*47,stroke:'#000','stroke-width':1.3},KP);


const r=mk('text',{x:cx+6,y:cy-37,'font-size':9},KP);r.textContent=kR[i];


const yl=mk('text',{transform:`translate(${cx-53} ${cy+30}) rotate(-90)`,'font-size':9,style:'fill:'+kYc[i]},KP);yl.textContent=kY[i];


const xl=mk('text',{x:cx,y:cy+(i<4?55:58),'text-anchor':'middle','font-size':9,style:'fill:'+kXc[i]},KP);xl.textContent=kX[i];


const sb=mk('path',{d:`M${cx-43} ${cy+30} H${cx-30} V${cy+17}`,stroke:'#222',fill:'none','stroke-width':1.2},KP);

});
</script>
</body></html>
